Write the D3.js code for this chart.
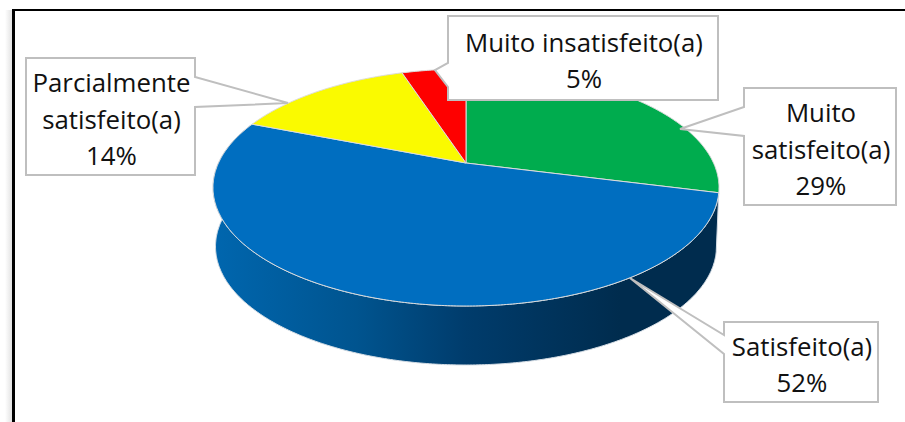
<!DOCTYPE html>
<html lang="pt">
<head>
    <meta charset="UTF-8">
    <title>Satisfação</title>
    <script src="https://d3js.org/d3.v7.min.js"></script>
    <style>
        html, body { margin: 0; padding: 0; background: #fff; overflow: hidden; }
        svg { display: block; }
        .label-text { font-family: "Open Sans", sans-serif; font-size: 25.8px; fill: #111; text-anchor: middle; }
    </style>
</head>
<body>
    <svg width="905" height="422"></svg>
    <script>
        // data
        const categories = ["Muito satisfeito(a)", "Satisfeito(a)", "Parcialmente satisfeito(a)", "Muito insatisfeito(a)"];
        const percents = [29, 52, 14, 5];
        const sliceColors = ["#00AC4E", "#006EC0", "#FAFA00", "#FE0000"];

        // text lines and callout geometry, same order as categories
        const labelLines = [["Muito", "satisfeito(a)"], ["Satisfeito(a)"], ["Parcialmente", "satisfeito(a)"], ["Muito insatisfeito(a)"]];
        const boxes = [
            { x: 744, y: 88, w: 152, h: 117, side: "left", p0: 19, p1: 48, tip: [680, 129] },
            { x: 724, y: 322, w: 154, h: 80, side: "left", p0: 13, p1: 32, tip: [630, 278] },
            { x: 26, y: 58, w: 169, h: 117, side: "right", p0: 19, p1: 49, tip: [288, 103] },
            { x: 448, y: 16, w: 270, h: 84, side: "left", p0: 47, p1: 71, tip: [435, 70] }
        ];

        const svg = d3.select("svg");
        const defs = svg.append("defs");

        // 3D pie: the top is a circle seen in perspective
        const cx = 466, apexY = 163, farY = 69, nearY = 306, halfW = 253, depth = 59;
        const k = (2 * apexY - farY - nearY) / (nearY - farY);
        const a = nearY * (1 + k) - apexY;
        const c = halfW * Math.sqrt(1 - k * k);

        function project(angle, dy = 0, scale = 1) {
            const u = Math.sin(angle), v = -Math.cos(angle), w = 1 + k * v;
            return [cx + scale * c * u / w, (a * v + apexY) / w + dy];
        }
        function rimAngles(a0, a1) {
            const n = Math.max(2, Math.ceil((a1 - a0) / 0.01));
            return d3.range(n + 1).map(i => a0 + (a1 - a0) * i / n);
        }

        const line = d3.line();
        const arcs = d3.pie().value(d => d).sort(null)(percents);

        // faint shadow left of the frame, then the frame
        const shadow = defs.append("linearGradient").attr("id", "frameShadow");
        shadow.append("stop").attr("offset", 0).attr("stop-color", "#fff");
        shadow.append("stop").attr("offset", 1).attr("stop-color", "#e2e2e2");
        svg.append("rect").attr("x", 5).attr("y", 10).attr("width", 7).attr("height", 412).attr("fill", "url(#frameShadow)");
        svg.append("line").attr("x1", 12).attr("x2", 905).attr("y1", 10).attr("y2", 10)
            .attr("stroke", "#000").attr("stroke-width", 2);
        svg.append("line").attr("x1", 13.5).attr("x2", 13.5).attr("y1", 9).attr("y2", 422)
            .attr("stroke", "#000").attr("stroke-width", 3);

        // side wall of the front slice
        const wall = defs.append("linearGradient").attr("id", "wallShade")
            .attr("gradientUnits", "userSpaceOnUse").attr("x1", 215).attr("x2", 620).attr("y1", 0).attr("y2", 0);
        [[0, "#0066AE"], [0.35, "#00548F"], [0.62, "#003C6C"], [1, "#002C4E"]].forEach(s =>
            wall.append("stop").attr("offset", s[0]).attr("stop-color", s[1]));

        const front = arcs[1];
        const frontAngles = rimAngles(front.startAngle, front.endAngle);
        const wallPts = frontAngles.map(t => project(t)).concat(frontAngles.slice().reverse().map(t => project(t, depth, 0.99)));
        svg.append("path")
            .attr("d", line(wallPts) + "Z")
            .attr("fill", "url(#wallShade)")
            .attr("stroke", "#d5dde5")
            .attr("stroke-width", 1);

        // top slices
        svg.selectAll(".slice")
            .data(arcs)
            .enter()
            .append("path")
            .attr("class", "slice")
            .attr("d", d => line([[cx, apexY]].concat(rimAngles(d.startAngle, d.endAngle).map(t => project(t)))) + "Z")
            .attr("fill", (d, i) => sliceColors[i])
            .attr("stroke", "#dcdcdc")
            .attr("stroke-width", 1)
            .attr("stroke-linejoin", "round");

        // callouts
        function calloutPath(b) {
            const x0 = b.x, x1 = b.x + b.w, y0 = b.y, y1 = b.y + b.h;
            const notch = b.side === "left"
                ? `L${x0},${y1}L${x0},${y0 + b.p1}L${b.tip}L${x0},${y0 + b.p0}`
                : `L${x1},${y0}L${x1},${y0 + b.p0}L${b.tip}L${x1},${y0 + b.p1}L${x1},${y1}L${x0},${y1}`;
            return b.side === "left"
                ? `M${x0},${y0}L${x1},${y0}L${x1},${y1}${notch}Z`
                : `M${x0},${y0}${notch}Z`;
        }

        const labels = svg.selectAll(".callout")
            .data(categories)
            .enter()
            .append("g")
            .attr("class", "callout");

        labels.append("path")
            .attr("d", (d, i) => calloutPath(boxes[i]))
            .attr("fill", "#fff")
            .attr("stroke", "#bfbfbf")
            .attr("stroke-width", 2);

        labels.each(function(d, i) {
            const b = boxes[i];
            const lines = labelLines[i].concat(percents[i] + "%");
            const midX = b.x + b.w / 2 + 1, step = 36.5;
            const startY = b.y + b.h / 2 - (lines.length - 1) * step / 2 + 12;
            d3.select(this).selectAll("text")
                .data(lines)
                .enter()
                .append("text")
                .attr("class", "label-text")
                .attr("x", midX)
                .attr("y", (t, j) => startY + j * step)
                .text(t => t);
        });
    </script>
</body>
</html>
